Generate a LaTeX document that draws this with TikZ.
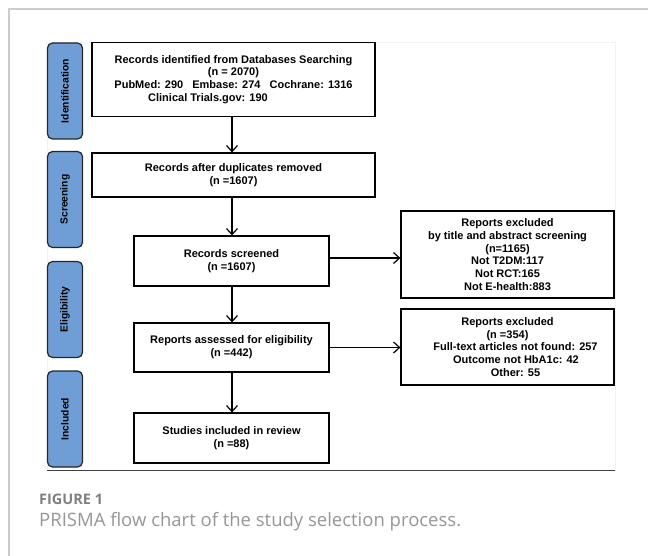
\documentclass[tikz,border=0pt]{standalone}
\usepackage{fontspec}
\setmainfont{Liberation Sans}
\newfontfamily\capfont{Open Sans}
\usetikzlibrary{arrows.meta, positioning, calc}

\definecolor{phaseblue}{RGB}{111,158,214}
\definecolor{framegray}{RGB}{204,204,204}
\definecolor{capgray}{RGB}{150,150,150}

\begin{document}
\begin{tikzpicture}[x=1pt, y=-1pt,
    box/.style={rectangle, draw=black, line width=1.2pt, align=center, inner sep=0pt, font=\bfseries\fontsize{11}{12.7}\selectfont},
    phase/.style={rectangle, rounded corners=5pt, draw=black!85, line width=1.2pt, fill=phaseblue, rotate=90, minimum width=96pt, minimum height=35pt, inner sep=0pt, font=\bfseries\fontsize{10.3}{12}\selectfont},
    flow/.style={-{Straight Barb[length=6pt,width=11pt]}, line width=1.2pt}]

        \useasboundingbox (0,0) rectangle (648,556);

        % Draw the page frame
        \draw[framegray, line width=1.2pt] (648,9) -- (9,9) -- (9,556);
        \draw[black!5] (47,42) rectangle (615,470);

        % Phase labels on the left
        \foreach \y/\t [count=\i] in {91/Identification, 199.5/Screening, 309.5/Eligibility, 419/Included} {
            \node[phase] (P-\i) at (65,\y) {\t};
        }

        % Main column
        \node[box, minimum width=283pt, minimum height=74pt] (records) at (233.5,79.5) {Records identified from Databases Searching\\(n = 2070)\\PubMed: 290\hspace{9pt}Embase: 274\hspace{9pt}Cochrane: 1316\\Clinical Trials.gov: 190\hspace*{51pt}};
        \node[box, minimum width=283pt, minimum height=44pt] (dedup) at (233.5,175) {Records after duplicates removed\\(n =1607)};
        \node[box, minimum width=195pt, minimum height=50pt] (screened) at (231.5,261) {Records screened\\(n =1607)};
        \node[box, minimum width=195pt, minimum height=49pt] (assessed) at (231.5,347.5) {Reports assessed for eligibility\\(n =442)};
        \node[box, minimum width=195pt, minimum height=50pt] (included) at (231.5,438) {Studies included in review\\(n =88)};

        % Exclusion boxes
        \node[box, minimum width=213pt, minimum height=87pt, font=\bfseries\fontsize{11}{12.8}\selectfont] (excl-1) at (507.5,254.5) {Reports excluded\\by title and abstract screening\\(n=1165)\\Not T2DM:117\\Not RCT:165\\Not E-health:883};
        \node[box, minimum width=213pt, minimum height=76pt] (excl-2) at (507.5,347) {Reports excluded\\(n =354)\\\hspace*{16pt}Full-text articles not found: 257\\\hspace*{17pt}Outcome not HbA1c: 42\\\hspace*{16pt}Other: 55};

        % Arrows
        \draw[flow] (records.south -| 232,0) -- (dedup.north -| 232,0);
        \draw[flow] (dedup.south -| 232,0) -- (screened.north -| 232,0);
        \draw[flow] (screened.south -| 232,0) -- (assessed.north -| 232,0);
        \draw[flow] (assessed.south -| 232,0) -- (included.north -| 232,0);
        \draw[flow] (screened.east |- 0,258) -- (excl-1.west |- 0,258);
        \draw[flow] (assessed.east) -- (assessed.east -| excl-2.west);

        % Rule and caption
        \draw[black!75, line width=0.9pt] (47,470) -- (615,470);
        \node[anchor=west, inner sep=0pt, text=capgray!85!black, font=\capfont\bfseries\fontsize{14.5}{16}\selectfont] (fig-label) at (39,499) {FIGURE 1};
        \node[anchor=west, inner sep=0pt, text=capgray, font=\capfont\fontsize{18.5}{21}\selectfont] (fig-caption) at (39,522) {PRISMA flow chart of the study selection process.};

\end{tikzpicture}
\end{document}
